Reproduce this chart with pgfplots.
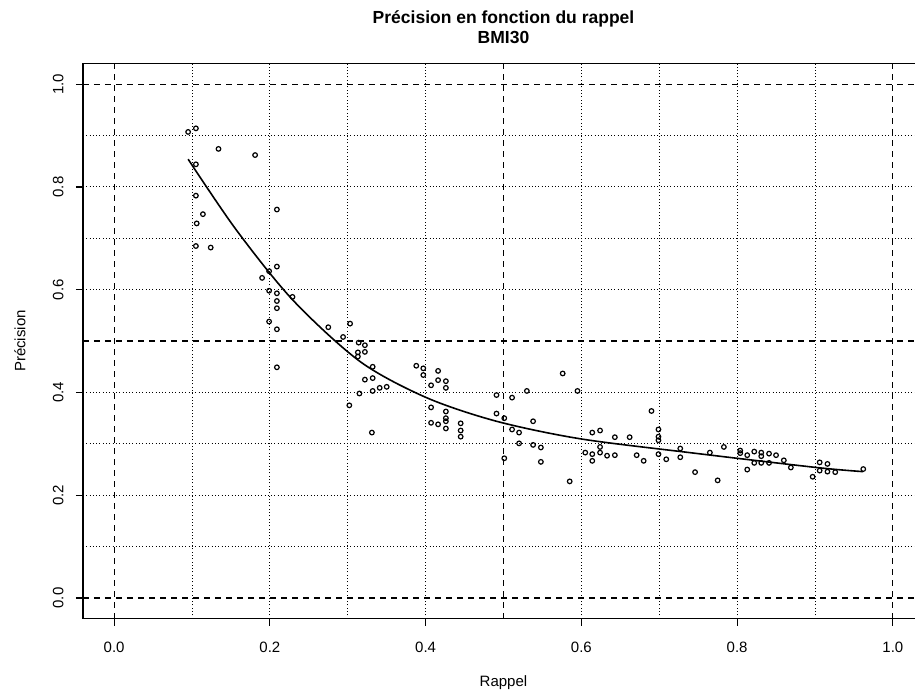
\documentclass[border=0pt]{standalone}
\usepackage{pgfplots}
\pgfplotsset{compat=1.18}
\usepackage{fontspec}
\setmainfont{Liberation Sans}
\begin{document}
\begin{tikzpicture}
\begin{axis}[
  scale only axis, width=841pt, height=555pt,
  xmin=-0.04, xmax=1.04, ymin=-0.04, ymax=1.04,
  axis line style={line width=1.3pt},
  xtick={0,0.2,0.4,0.6,0.8,1.0}, ytick={0,0.2,0.4,0.6,0.8,1.0},
  minor xtick={0.1,0.2,0.3,0.4,0.6,0.7,0.8,0.9},
  minor ytick={0.1,0.2,0.3,0.4,0.6,0.7,0.8,0.9},
  grid=minor,
  minor grid style={black, line width=0.9pt, dash pattern=on 0.9pt off 2.4pt},
  minor tick length=0pt,
  major tick length=7pt,
  tick align=outside,
  xtick pos=bottom, ytick pos=left,
  tick style={black, line width=1.2pt},
  extra x ticks={0,0.5,1}, extra y ticks={0,0.5,1},
  extra x tick labels={}, extra y tick labels={},
  extra tick style={grid=major, major tick length=0pt,
     major grid style={black, line width=1.2pt, dash pattern=on 6pt off 5pt}},
  /pgf/number format/.cd, fixed, fixed zerofill, precision=1, assume math mode=true,
  /pgfplots/.cd,
  tick label style={font=\fontsize{15}{17}\selectfont},
  xticklabel shift=13pt,
  yticklabel shift=9pt,
  yticklabel style={rotate=90, anchor=south},
  every axis x label/.style={at={([yshift=-64pt]axis description cs:0.5,0)}, anchor=center, font=\fontsize{15}{17}\selectfont},
  every axis y label/.style={at={([xshift=-63pt]axis description cs:0,0.5)}, anchor=center, rotate=90, font=\fontsize{15}{17}\selectfont},
  every axis title/.style={at={([yshift=36.5pt]axis description cs:0.5,1)}, anchor=center, align=center, font=\bfseries\fontsize{17.5}{20}\selectfont},
  xlabel={Rappel}, ylabel={Précision},
  title={Précision en fonction du rappel\\BMI30},
]
\addplot[only marks, mark=o, mark size=2.3pt, mark options={line width=1.2pt, black}] coordinates {
(0.095,0.907) (0.105,0.914) (0.134,0.874) (0.181,0.862) (0.105,0.844)
(0.105,0.783) (0.114,0.747) (0.106,0.729) (0.105,0.685) (0.124,0.682)
(0.209,0.756) (0.209,0.645) (0.190,0.623) (0.199,0.636) (0.209,0.593)
(0.199,0.598) (0.209,0.578) (0.209,0.564) (0.199,0.538) (0.209,0.523)
(0.209,0.449) (0.229,0.586) (0.275,0.527) (0.294,0.508) (0.303,0.534)
(0.313,0.478) (0.314,0.497) (0.322,0.492) (0.313,0.470) (0.322,0.479)
(0.332,0.450) (0.322,0.425) (0.332,0.428) (0.332,0.403) (0.341,0.409)
(0.350,0.411) (0.315,0.398) (0.302,0.375) (0.331,0.322) (0.388,0.452)
(0.397,0.447) (0.397,0.434) (0.416,0.442) (0.407,0.414) (0.416,0.424)
(0.426,0.422) (0.426,0.409) (0.407,0.371) (0.426,0.363) (0.426,0.350)
(0.426,0.344) (0.407,0.341) (0.416,0.338) (0.426,0.330) (0.445,0.340)
(0.445,0.326) (0.445,0.314) (0.491,0.395) (0.491,0.359) (0.511,0.390)
(0.530,0.403) (0.576,0.437) (0.595,0.403) (0.501,0.350) (0.511,0.328)
(0.520,0.322) (0.520,0.301) (0.538,0.344) (0.538,0.298) (0.548,0.293)
(0.548,0.265) (0.501,0.272) (0.585,0.227) (0.614,0.322) (0.624,0.326)
(0.624,0.294) (0.605,0.283) (0.614,0.280) (0.614,0.267) (0.624,0.283)
(0.633,0.277) (0.643,0.313) (0.643,0.278) (0.662,0.313) (0.671,0.278)
(0.680,0.267) (0.690,0.364) (0.699,0.328) (0.699,0.314) (0.699,0.307)
(0.699,0.280) (0.709,0.270) (0.727,0.274) (0.727,0.291) (0.746,0.245)
(0.775,0.229) (0.783,0.294) (0.765,0.283) (0.804,0.287) (0.804,0.282)
(0.813,0.250) (0.813,0.278) (0.822,0.285) (0.831,0.283) (0.831,0.276)
(0.841,0.281) (0.850,0.278) (0.822,0.263) (0.831,0.263) (0.841,0.263)
(0.860,0.268) (0.869,0.254) (0.897,0.236) (0.906,0.264) (0.906,0.248)
(0.916,0.246) (0.926,0.245) (0.916,0.261) (0.962,0.251)
};
\addplot[black, line width=1.6pt, smooth, no marks] coordinates {
(0.095,0.854) (0.157,0.716) (0.230,0.579) (0.316,0.460) (0.401,0.390)
(0.491,0.344) (0.598,0.310) (0.739,0.283) (0.902,0.254) (0.962,0.246)
};
\end{axis}
\pgfresetboundingbox
\path[use as bounding box] (-83pt,-73.4pt) rectangle (832pt,618.6pt);
\end{tikzpicture}
\end{document}
